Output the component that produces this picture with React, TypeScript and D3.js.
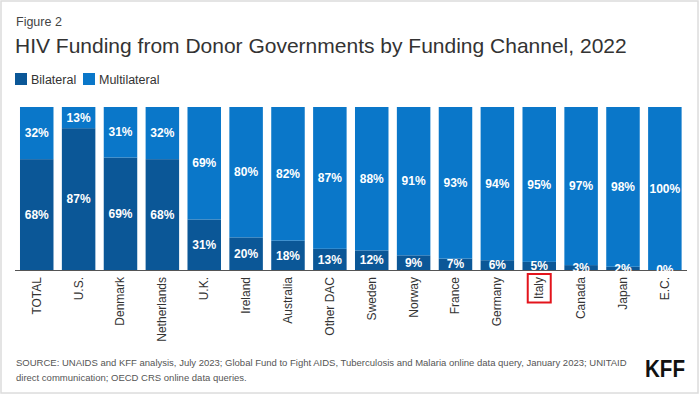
import React from "react";
import * as d3 from "d3";

const categories = ["TOTAL", "U.S.", "Denmark", "Netherlands", "U.K.", "Ireland", "Australia", "Other DAC", "Sweden", "Norway", "France", "Germany", "Italy", "Canada", "Japan", "E.C."];
const bilateral = [68, 87, 69, 68, 31, 20, 18, 13, 12, 9, 7, 6, 5, 3, 2, 0];
const multilateral = [32, 13, 31, 32, 69, 80, 82, 87, 88, 91, 93, 94, 95, 97, 98, 100];
const seriesNames = ["Bilateral", "Multilateral"];
const highlighted = "Italy";

const W = 699;
const H = 394;
const colors = ["#0b5797", "#0a77c9"];
const FONT = "'Liberation Sans', Arial, Helvetica, sans-serif";

export default function App() {
  const x = d3.scaleBand<string>().domain(categories).range([15.8, 685.8]).paddingInner(0.2).paddingOuter(0.1);
  const y = d3.scaleLinear().domain([0, 100]).range([270, 107]);

  const rows = categories.map((c, i) => ({ cat: c, Bilateral: bilateral[i], Multilateral: multilateral[i] }));
  const stack = d3.stack<any>().keys(seriesNames)(rows);

  return (
    <svg width={W} height={H} style={{ position: "absolute", left: 0, top: 0, background: "#fff" }} fontFamily={FONT}>
      <rect x={1} y={1} width={W - 2} height={H - 2} fill="#fff" stroke="#dcdcdc" strokeWidth={1.5} />
      <text x={16} y={26} fontSize={12.5} fill="#444">Figure 2</text>
      <text x={15} y={53} fontSize={21} fill="#333">HIV Funding from Donor Governments by Funding Channel, 2022</text>
      {seriesNames.map((s, i) => {
        const lx = i === 0 ? 15 : 83;
        return (
          <g key={s}>
            <rect x={lx} y={73} width={12} height={12} fill={colors[i]} />
            <text x={lx + 16} y={83.5} fontSize={12.5} fill="#333">{s}</text>
          </g>
        );
      })}
      {stack.map((layer, li) => (
        <g key={layer.key}>
          {layer.map((d, i) => {
            const cat = categories[i];
            const y0 = y(d[0]);
            const y1 = y(d[1]);
            return (
              <rect key={cat} x={x(cat)} y={y1} width={x.bandwidth()} height={y0 - y1} fill={colors[li]} />
            );
          })}
        </g>
      ))}
      <line x1={15} x2={687} y1={270.5} y2={270.5} stroke="#555" strokeWidth={1} />
      {stack.map((layer) => (
        <g key={layer.key + "-lbl"}>
          {layer.map((d, i) => {
            const cat = categories[i];
            const v = d[1] - d[0];
            const cy = (y(d[0]) + y(d[1])) / 2;
            return (
              <text key={cat} x={(x(cat) as number) + x.bandwidth() / 2} y={cy} dy="0.35em" textAnchor="middle"
                fontSize={12} fontWeight="bold" fill="#fff">{`${v}%`}</text>
            );
          })}
        </g>
      ))}
      {categories.map((c) => {
        const cx = (x(c) as number) + x.bandwidth() / 2;
        return (
          <text key={c} transform={`translate(${cx + 4},277) rotate(-90)`} textAnchor="end" fontSize={12} fill="#333">{c}</text>
        );
      })}
      {(() => {
        const cx = (x(highlighted) as number) + x.bandwidth() / 2;
        return <rect x={cx - 11.5} y={274} width={23} height={28.5} fill="none" stroke="#e3141c" strokeWidth={2} />;
      })()}
      <text x={16} y={366} fontSize={9.5} fill="#555">SOURCE: UNAIDS and KFF analysis, July 2023; Global Fund to Fight AIDS, Tuberculosis and Malaria online data query, January 2023; UNITAID</text>
      <text x={16} y={381} fontSize={9.5} fill="#555">direct communication; OECD CRS online data queries.</text>
      <text x={645} y={377} fontSize={23} fontWeight="bold" fill="#111" textLength={40} lengthAdjust="spacingAndGlyphs">KFF</text>
    </svg>
  );
}
